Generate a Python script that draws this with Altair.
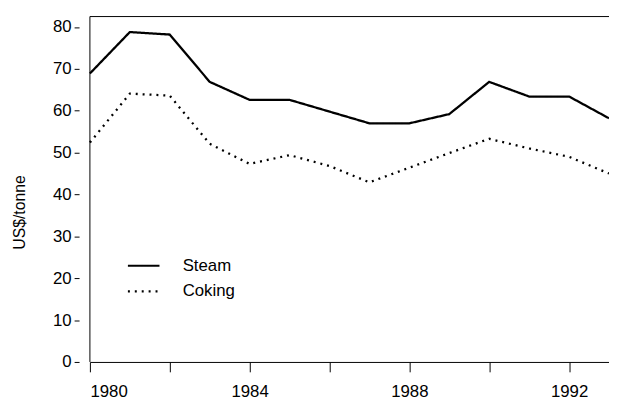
import altair as alt
import pandas as pd

years = [1980, 1981, 1982, 1983, 1984, 1985, 1986, 1987, 1988, 1989, 1990, 1991, 1992, 1993]
steam = [68.9, 78.8, 78.2, 66.9, 62.6, 62.6, 59.8, 57.0, 57.0, 59.2, 66.9, 63.4, 63.4, 58.2]
coking = [52.4, 64.1, 63.6, 52.1, 47.3, 49.4, 46.8, 42.9, 46.4, 49.9, 53.3, 51.0, 49.0, 45.0]
series_names = ["Steam", "Coking"]
x_ticks = [1980, 1982, 1984, 1986, 1988, 1990, 1992]
y_ticks = [0, 10, 20, 30, 40, 50, 60, 70, 80]

df = pd.DataFrame({
    "year": years * 2,
    "price": steam + coking,
    "series": ["Steam"] * len(years) + ["Coking"] * len(years),
})

FONT = "Liberation Sans"

lines = alt.Chart(df).mark_line(color="black", strokeWidth=2.3).encode(
    x=alt.X("year:Q",
            scale=alt.Scale(domain=[1980, 1993], nice=False, zero=False),
            axis=alt.Axis(values=x_ticks, format="d",
                          labelExpr="datum.value % 4 == 0 ? datum.label : ''",
                          title=None, tickSize=10, labelPadding=12, grid=False,
                          domainColor="black", tickColor="black", labelColor="black",
                          labelFontSize=17, labelFont=FONT)),
    y=alt.Y("price:Q",
            scale=alt.Scale(domain=[0, 82.5], nice=False),
            axis=alt.Axis(values=y_ticks, domain=False, offset=11, tickSize=5,
                          labelPadding=3, grid=False, tickColor="black",
                          labelColor="black", labelFontSize=17, labelFont=FONT,
                          title="US$/tonne", titleFont=FONT, titleFontSize=16,
                          titleFontWeight="normal", titleColor="black",
                          titleX=-60, titleY=198, titleAngle=270,
                          titleAlign="center", titleBaseline="middle")),
    strokeDash=alt.StrokeDash("series:N",
                              scale=alt.Scale(domain=series_names, range=[[1, 0], [2, 5]]),
                              legend=alt.Legend(title=None, orient="none", legendX=37, legendY=235,
                                                symbolType="stroke", symbolSize=1024,
                                                symbolStrokeWidth=2.2, symbolStrokeColor="black",
                                                labelFontSize=17, labelFont=FONT, labelColor="black",
                                                labelOffset=22, rowPadding=-1, padding=0)),
    order=alt.Order("year:Q"),
)

frame_df = pd.DataFrame({"k": [0]})
top_rule = alt.Chart(frame_df).mark_rule(color="black", strokeWidth=1).encode(y=alt.value(0))
left_rule = alt.Chart(frame_df).mark_rule(color="black", strokeWidth=1).encode(x=alt.value(0))

chart = alt.layer(lines, top_rule, left_rule).properties(
    width=526, height=350,
    autosize=alt.AutoSizeParams(type="none"),
    padding={"left": 83, "top": 6, "right": 0, "bottom": 45},
).configure_view(stroke=None)

chart.save("out.html", embed_options={"renderer": "svg", "actions": False})
